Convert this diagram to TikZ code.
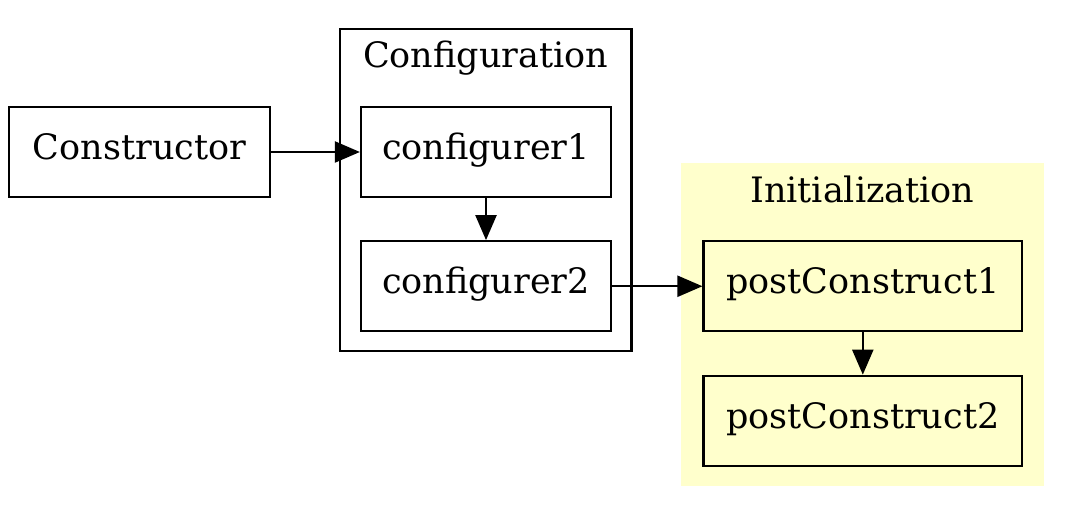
\documentclass[tikz,border=0pt]{standalone}
\usepackage{fontspec}
\setmainfont{DejaVu Serif}
\usetikzlibrary{arrows.meta}
\definecolor{inityellow}{HTML}{FFFFCC}
\begin{document}
\begin{tikzpicture}[x=0.4pt,y=-0.4pt,
  every node/.style={font=\fontsize{14pt}{16pt}\selectfont},
  box/.style={draw=black, line width=0.9pt, rectangle, inner sep=0pt,
    minimum height=36pt, text height=0.8em, text depth=0.19em},
  initbox/.style={box, fill=inityellow},
  cluster/.style={line width=0.9pt},
  lbl/.style={anchor=base, inner sep=0pt},
  arr/.style={line width=0.9pt, -{Triangle[length=10pt,width=8.4pt]}}]
\useasboundingbox (0,0) rectangle (1073,518);
% clusters
\draw[cluster, draw=black] (340,29.2) rectangle (631.5,351);
\node[lbl] (lconf) at (485.7,68) {Configuration};
\fill[inityellow] (681,163.4) rectangle (1043.5,486.5);
\node[lbl] (linit) at (862.3,202.6) {Initialization};
% nodes
\node[box, minimum width=104.4pt] (C) at (139.5,152) {Constructor};
\node[box, minimum width=100pt] (c1) at (486,152) {configurer1};
\node[box, minimum width=100pt] (c2) at (486,286.25) {configurer2};
\node[initbox, minimum width=127.4pt] (p1) at (862.8,286.25) {postConstruct1};
\node[initbox, minimum width=127.4pt] (p2) at (862.8,420.8) {postConstruct2};
% connectors
\draw[arr] (C.east) -- (c1.west);
\draw[arr] (c1.south) -- (c2.north);
\draw[arr] (c2.east) -- (p1.west);
\draw[arr] (p1.south) -- (p2.north);
\end{tikzpicture}
\end{document}
